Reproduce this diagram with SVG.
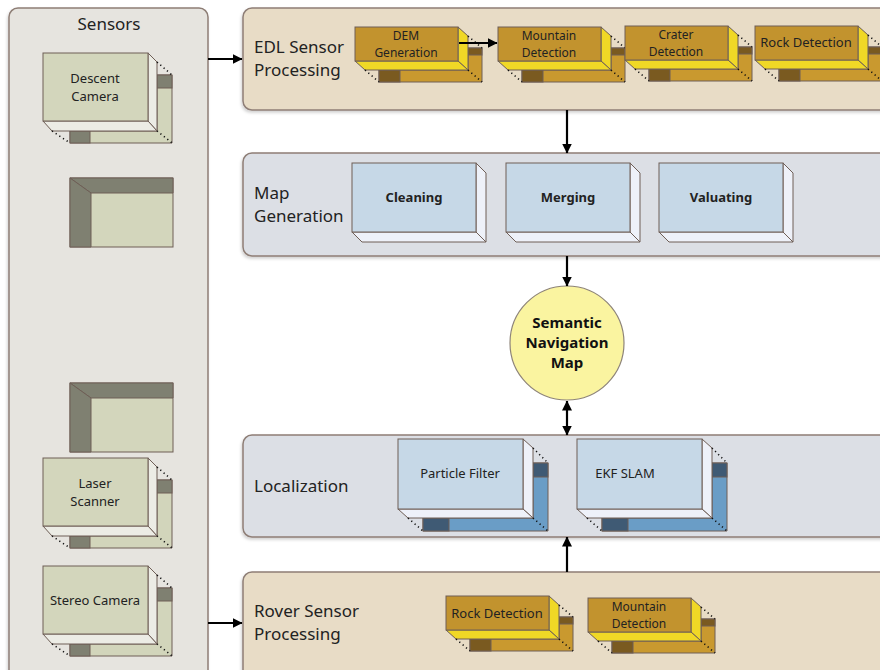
<svg xmlns="http://www.w3.org/2000/svg" xmlns:xlink="http://www.w3.org/1999/xlink" width="880" height="670" viewBox="0 0 880 670">
  <style>
    text { font-family: "Noto Sans", "Open Sans", sans-serif; fill: #222; }
    .panel-label { font-size: 17px; }
    .box-label { font-size: 13px; text-anchor: middle; }
    .gold-label { font-size: 12px; text-anchor: middle; }
    .bold-label { font-size: 13px; font-weight: bold; text-anchor: middle; }
    .map-label { font-size: 15px; font-weight: bold; text-anchor: middle; fill: #111; }
    .panel { stroke: #8e7e76; stroke-width: 1.5; }
    .sensors { fill: #e6e4df; }
    .proc { fill: #e8dcc6; }
    .bluegray { fill: #dcdfe5; }
    .edge { stroke: #6e5e56; stroke-width: 1; }
    .dots { stroke: #111; stroke-width: 1.6; stroke-dasharray: 1.2 3.2; fill: none; }
    .conn { stroke: #000; stroke-width: 2.2; fill: none; }
  </style>
  <defs>
    <filter id="shadow" x="-5%" y="-5%" width="110%" height="115%">
      <feDropShadow dx="-1" dy="2" stdDeviation="1.5" flood-color="#000" flood-opacity="0.18"/>
    </filter>
    <marker id="arrow" viewBox="0 0 10 10" refX="9.5" refY="5" markerWidth="10" markerHeight="10" markerUnits="userSpaceOnUse" orient="auto-start-reverse">
      <path d="M0,0 L10,5 L0,10 z" fill="#000"/>
    </marker>

    <!-- sensor box: green front, pale depth faces, partial back frame -->
    <g id="sensor-box">
      <polygon points="114,22 129,22 129,90 27,90 27,78 114,78" fill="#d2d5bb" class="edge"/>
      <rect x="114" y="22" width="15" height="13" fill="#7f8071" class="edge"/>
      <rect x="27" y="78" width="20" height="12" fill="#7f8071" class="edge"/>
      <polygon points="105,0 114,9 114,78 105,68" fill="#ecece5" class="edge"/>
      <polygon points="0,68 105,68 114,78 9,78" fill="#ecece5" class="edge"/>
      <rect x="0" y="0" width="105" height="68" fill="#d3d6bc" class="edge"/>
      <path d="M114,9 L129,22 M114,78 L129,90 M9,78 L27,90" class="dots"/>
    </g>

    <!-- hollow sensor frame seen from the front -->
    <g id="sensor-frame">
      <rect x="0" y="0" width="103" height="69" fill="#d3d6bc" class="edge"/>
      <polygon points="0,0 103,0 103,15 21,15" fill="#7f8071" class="edge"/>
      <polygon points="0,0 21,15 21,69 0,69" fill="#7f8071" class="edge"/>
    </g>

    <!-- processing step: gold front, yellow depth faces -->
    <g id="gold-box">
      <polygon points="113,21 127,21 127,55 24,55 24,43 113,43" fill="#c9992f" class="edge"/>
      <rect x="113" y="21" width="14" height="7" fill="#7a5a20" class="edge"/>
      <rect x="24" y="43" width="21" height="12" fill="#7a5a20" class="edge"/>
      <polygon points="103,0 113,9 113,43 103,34" fill="#f0d826" class="edge"/>
      <polygon points="0,34 103,34 113,43 10,43" fill="#f0d826" class="edge"/>
      <rect x="0" y="0" width="103" height="34" fill="#c2932e" class="edge"/>
      <path d="M113,9 L127,21 M113,43 L127,55 M10,43 L24,55" class="dots"/>
    </g>

    <!-- map generation step: light blue front -->
    <g id="blue-box">
      <polygon points="124,0 134,10 134,79 124,69" fill="#eef1f9" class="edge"/>
      <polygon points="0,69 124,69 134,79 10,79" fill="#eef1f9" class="edge"/>
      <rect x="0" y="0" width="124" height="69" fill="#c6d8e7" class="edge"/>
    </g>

    <!-- localization filter: light blue front, blue back frame -->
    <g id="loc-box">
      <polygon points="135,24 150,24 150,92 25,92 25,79 135,79" fill="#6a9dc6" class="edge"/>
      <rect x="135" y="24" width="15" height="14" fill="#3f5a74" class="edge"/>
      <rect x="25" y="79" width="26" height="13" fill="#3f5a74" class="edge"/>
      <polygon points="125,0 135,9 135,79 125,70" fill="#eef1f9" class="edge"/>
      <polygon points="0,70 125,70 135,79 10,79" fill="#eef1f9" class="edge"/>
      <rect x="0" y="0" width="125" height="70" fill="#c6d8e7" class="edge"/>
      <path d="M135,9 L150,24 M135,79 L150,92 M10,79 L25,92" class="dots"/>
    </g>
  </defs>

  <rect width="880" height="670" fill="#ffffff"/>

  <!-- Sensors column -->
  <g id="sensors">
    <rect x="9" y="8" width="199" height="690" rx="9" class="panel sensors" filter="url(#shadow)"/>
    <text x="109" y="30" class="panel-label" text-anchor="middle">Sensors</text>
  </g>
  <g id="descent-camera" transform="translate(43,53)">
    <use href="#sensor-box"/>
    <text x="52" y="30" class="box-label">Descent</text>
    <text x="52" y="48" class="box-label">Camera</text>
  </g>
  <g id="sensor-frame-1" transform="translate(70,178)">
    <use href="#sensor-frame"/>
  </g>
  <g id="sensor-frame-2" transform="translate(70,383)">
    <use href="#sensor-frame"/>
  </g>
  <g id="laser-scanner" transform="translate(43,458)">
    <use href="#sensor-box"/>
    <text x="52" y="30" class="box-label">Laser</text>
    <text x="52" y="48" class="box-label">Scanner</text>
  </g>
  <g id="stereo-camera" transform="translate(43,566)">
    <use href="#sensor-box"/>
    <text x="52" y="39" class="box-label">Stereo Camera</text>
  </g>

  <!-- EDL sensor processing -->
  <g id="edl-processing">
    <rect x="243" y="8" width="660" height="102" rx="9" class="panel proc" filter="url(#shadow)"/>
    <text x="254" y="53" class="panel-label">EDL Sensor</text>
    <text x="254" y="76" class="panel-label">Processing</text>
  </g>
  <g id="dem-generation" transform="translate(355,27)">
    <use href="#gold-box"/>
    <text x="51" y="12.5" class="gold-label">DEM</text>
    <text x="51" y="29.5" class="gold-label">Generation</text>
  </g>
  <g id="edl-mountain-detection" transform="translate(498,27)">
    <use href="#gold-box"/>
    <text x="51" y="12.5" class="gold-label">Mountain</text>
    <text x="51" y="29.5" class="gold-label">Detection</text>
  </g>
  <g id="crater-detection" transform="translate(625,26)">
    <use href="#gold-box"/>
    <text x="51" y="12.5" class="gold-label">Crater</text>
    <text x="51" y="29.5" class="gold-label">Detection</text>
  </g>
  <g id="edl-rock-detection" transform="translate(755,26)">
    <use href="#gold-box"/>
    <text x="51" y="21" class="box-label">Rock Detection</text>
  </g>

  <!-- Map generation -->
  <g id="map-generation">
    <rect x="243" y="153" width="660" height="103" rx="9" class="panel bluegray" filter="url(#shadow)"/>
    <text x="254" y="199" class="panel-label">Map</text>
    <text x="254" y="222" class="panel-label">Generation</text>
  </g>
  <g id="cleaning" transform="translate(352,163)">
    <use href="#blue-box"/>
    <text x="62" y="39" class="bold-label">Cleaning</text>
  </g>
  <g id="merging" transform="translate(506,163)">
    <use href="#blue-box"/>
    <text x="62" y="39" class="bold-label">Merging</text>
  </g>
  <g id="valuating" transform="translate(659,163)">
    <use href="#blue-box"/>
    <text x="62" y="39" class="bold-label">Valuating</text>
  </g>

  <!-- Semantic navigation map -->
  <g id="semantic-navigation-map">
    <circle cx="567" cy="343" r="57" fill="#faf4a0" stroke="#8e8478" stroke-width="1.2"/>
    <text x="567" y="328" class="map-label">Semantic</text>
    <text x="567" y="348" class="map-label">Navigation</text>
    <text x="567" y="368" class="map-label">Map</text>
  </g>

  <!-- Localization -->
  <g id="localization">
    <rect x="243" y="435" width="660" height="102" rx="9" class="panel bluegray" filter="url(#shadow)"/>
    <text x="254" y="492" class="panel-label">Localization</text>
  </g>
  <g id="particle-filter" transform="translate(398,439)">
    <use href="#loc-box"/>
    <text x="62" y="39" class="box-label">Particle Filter</text>
  </g>
  <g id="ekf-slam" transform="translate(577,439)">
    <use href="#loc-box"/>
    <text x="48" y="39" class="box-label">EKF SLAM</text>
  </g>

  <!-- Rover sensor processing -->
  <g id="rover-processing">
    <rect x="243" y="572" width="660" height="130" rx="9" class="panel proc" filter="url(#shadow)"/>
    <text x="254" y="617" class="panel-label">Rover Sensor</text>
    <text x="254" y="640" class="panel-label">Processing</text>
  </g>
  <g id="rover-rock-detection" transform="translate(446,596)">
    <use href="#gold-box"/>
    <text x="51" y="22" class="box-label">Rock Detection</text>
  </g>
  <g id="rover-mountain-detection" transform="translate(588,598)">
    <use href="#gold-box"/>
    <text x="51" y="12.5" class="gold-label">Mountain</text>
    <text x="51" y="29.5" class="gold-label">Detection</text>
  </g>

  <!-- Connectors -->
  <g id="connectors">
    <path d="M208,59 H242" class="conn" marker-end="url(#arrow)"/>
    <path d="M208,623 H242" class="conn" marker-end="url(#arrow)"/>
    <path d="M459,43 H497" class="conn" marker-end="url(#arrow)"/>
    <path d="M567,110 V153" class="conn" marker-end="url(#arrow)"/>
    <path d="M567,256 V286" class="conn" marker-end="url(#arrow)"/>
    <path d="M567,401 V435" class="conn" marker-start="url(#arrow)" marker-end="url(#arrow)"/>
    <path d="M567,572 V537" class="conn" marker-end="url(#arrow)"/>
  </g>
</svg>
